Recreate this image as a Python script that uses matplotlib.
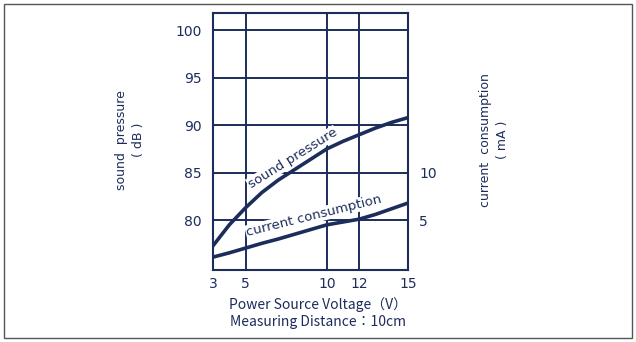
import matplotlib.pyplot as plt
from matplotlib.patches import Rectangle

# data
voltage = [3, 4, 5, 6, 7, 8, 9, 10, 11, 12, 13, 14, 15]
sound_db = [77.3, 79.5, 81.3, 82.9, 84.2, 85.3, 86.4, 87.5, 88.3, 89.0, 89.7, 90.3, 90.8]
current_ma = [1.1, 1.55, 2.05, 2.55, 3.0, 3.5, 4.0, 4.5, 4.8, 5.1, 5.6, 6.2, 6.8]

x_ticks = [3, 5, 10, 12, 15]
db_ticks = [80, 85, 90, 95, 100]
ma_ticks = [5, 10]

navy = '#1c2d5c'
plt.rcParams['font.family'] = ['Liberation Sans Narrow', 'DejaVu Sans']

fig = plt.figure(figsize=(6.36, 3.42), dpi=100)
fig.patches.append(Rectangle((0.006, 0.012), 0.988, 0.976, transform=fig.transFigure,
                             fill=False, edgecolor='#555555', linewidth=1.0))

ax = fig.add_axes([0.335, 0.2105, 0.3066, 0.751])
ax.set_xlim(3, 15)
ax.set_ylim(74.74, 101.8)

# grid
for v in [5, 10, 12]:
    ax.axvline(v, color=navy, linewidth=1.4, zorder=1)
for d in db_ticks:
    ax.axhline(d, color=navy, linewidth=1.4, zorder=1)

ax.plot(voltage, sound_db, color=navy, linewidth=2.6, zorder=4)
# current curve on the right scale: 0 mA sits at 75 dB, 5 mA per 5 dB
ax2 = ax.twinx()
ax2.set_ylim(74.74 - 75, 101.8 - 75)
ax2.plot(voltage, current_ma, color=navy, linewidth=2.6, zorder=4)

for s in ax.spines.values():
    s.set_color(navy)
    s.set_linewidth(1.5)
for s in ax2.spines.values():
    s.set_visible(False)

ax.set_xticks(x_ticks)
ax.set_yticks(db_ticks)
ax2.set_yticks(ma_ticks)
ax.tick_params(length=0, labelsize=10, colors=navy, pad=8)
ax.tick_params(axis='x', pad=5)
ax2.tick_params(length=0, labelsize=10, colors=navy, pad=8)

ax.text(7.9, 86.5, 'sound pressure', rotation=32, color=navy, fontsize=9.5,
        family='DejaVu Sans', ha='center', va='center', zorder=3,
        bbox=dict(facecolor='white', edgecolor='none', pad=0.5))
ax.text(9.2, 80.45, 'current consumption', rotation=14, color=navy,
        fontsize=9.5, family='DejaVu Sans', ha='center', va='center', zorder=3,
        bbox=dict(facecolor='white', edgecolor='none', pad=0.5))

fig.text(0.205, 0.59, 'sound  pressure\n( dB )', rotation=90, color=navy, fontsize=9,
         family='DejaVu Sans', ha='center', va='center', linespacing=1.4)
fig.text(0.777, 0.59, 'current  consumption\n( mA )', rotation=90, color=navy, fontsize=9,
         family='DejaVu Sans', ha='center', va='center', linespacing=1.4)

fig.text(0.5, 0.11, 'Power Source Voltage（V）', color=navy, fontsize=10,
         family=['Noto Sans CJK JP', 'DejaVu Sans'], ha='center', va='center')
fig.text(0.5, 0.058, 'Measuring Distance：10cm', color=navy, fontsize=10,
         family=['Noto Sans CJK JP', 'DejaVu Sans'], ha='center', va='center')

fig.savefig('out.png', dpi=100)
